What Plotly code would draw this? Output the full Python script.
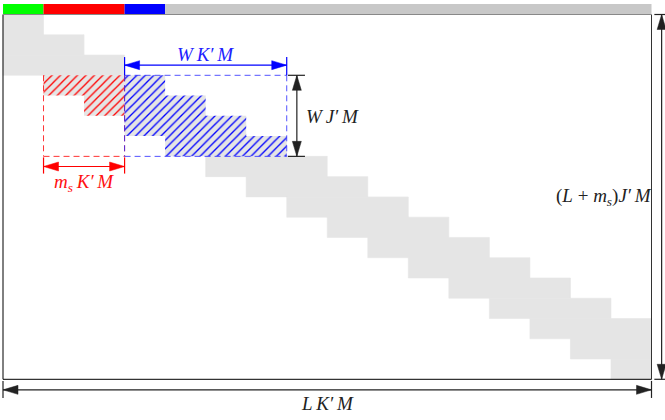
import plotly.graph_objects as go

# ---- data (in matrix block units: columns = K'M, rows = J'M) ----
N_COLS = 16          # L
N_ROWS = 18          # L + m_s
row_first = [0, 0, 0, 1, 2, 3, 4, 5, 6, 7, 8, 9, 10, 11, 12, 13, 14, 15]
row_last = [0, 1, 2, 3, 4, 5, 6, 7, 8, 9, 10, 11, 12, 13, 14, 15, 15, 15]
bar_from = [0, 1, 3, 4]
bar_to = [1, 3, 4, 16]
bar_colors = ["#00ff00", "#ff0000", "#0000ff", "#c8c8c8"]
red_block = [1, 3, 3, 7]     # c0, c1, r0, r1   (m_s x W)
blue_block = [3, 7, 3, 7]    # c0, c1, r0, r1   (W x W)
TS = "\u2009"
lbl_ws = f"<i>W{TS}K′{TS}M</i>"
lbl_ms = f"<i>m<sub>s</sub>{TS}K′{TS}M</i>"
lbl_wj = f"<i>W{TS}J′{TS}M</i>"
lbl_lj = f"(<i>L</i> + <i>m<sub>s</sub></i>)<i>J′{TS}M</i>"
lbl_lk = f"<i>L{TS}K′{TS}M</i>"

# ---- canvas geometry ----
W, H = 665, 420
X0, Y0 = 3.0, 14.5
PXC = (651.5 - X0) / N_COLS
PXR = (379.3 - Y0) / N_ROWS

fig = go.Figure()
shapes = []
FONT = "Liberation Serif"


def rect(c0, c1, r0, r1, color, layer="below"):
    shapes.append(dict(type="rect", x0=c0, x1=c1, y0=r0, y1=r1, xref="x", yref="y",
                       fillcolor=color, line=dict(width=0), layer=layer))


def line(x0, y0, x1, y1, color="black", width=1, dash="solid"):
    shapes.append(dict(type="line", x0=x0, x1=x1, y0=y0, y1=y1, xref="x", yref="y",
                       line=dict(color=color, width=width, dash=dash), layer="above"))


def in_block(c, r, b):
    return b[0] <= c < b[1] and b[2] <= r < b[3]


def kind(c, r):
    if in_block(c, r, red_block):
        return "red"
    if in_block(c, r, blue_block):
        return "blue"
    return "gray"


# runs of cells per row, grouped by kind
runs = {"gray": [], "red": [], "blue": []}
for r in range(N_ROWS):
    c = row_first[r]
    while c <= row_last[r]:
        k = kind(c, r)
        c1 = c
        while c1 + 1 <= row_last[r] and kind(c1 + 1, r) == k:
            c1 += 1
        runs[k].append((c, c1 + 1, r))
        c = c1 + 1

# gray band
gx, gy = [], []
for c0, c1, r in runs["gray"]:
    gx += [c0, c1, c1, c0, c0, None]
    gy += [r, r, r + 1, r + 1, r, None]
fig.add_trace(go.Scatter(x=gx, y=gy, mode="lines", fill="toself", fillcolor="#e5e5e5",
                         line=dict(width=0.6, color="#e5e5e5"),
                         hoverinfo="skip", showlegend=False))

# hatched cells
for name, fg in (("red", "#ff0000"), ("blue", "#0000ff")):
    xs, ys = [], []
    for c0, c1, r in runs[name]:
        xs += [c0, c1, c1, c0, c0, None]
        ys += [r, r, r + 1, r + 1, r, None]
    fig.add_trace(go.Scatter(x=xs, y=ys, mode="lines", fill="toself",
                             line=dict(width=0, color="rgba(0,0,0,0)"),
                             fillcolor="#e5e5e5",
                             fillpattern=dict(shape="/", fgcolor=fg, bgcolor="#e5e5e5",
                                              fgopacity=1, size=6, solidity=0.22),
                             hoverinfo="skip", showlegend=False))

# top bar
for a, b, col in zip(bar_from, bar_to, bar_colors):
    rect(a, b, -10.5 / PXR, 0, col, layer="above")

# frame
line(0, 0, 0, N_ROWS, "black")
line(N_COLS, 0, N_COLS, N_ROWS, "#333333")
line(0, N_ROWS, N_COLS, N_ROWS, "black")
line(0, 0, N_COLS, 0, "#888888")

# dashed boxes
DASH = "6px,4px"
rc0, rc1, rr0, rr1 = red_block
bc0, bc1, br0, br1 = blue_block
for (x0, y0, x1, y1) in [(rc0, rr0, rc0, rr1), (rc1, rr0, rc1, rr1), (rc0, rr1, rc1, rr1)]:
    line(x0, y0, x1, y1, "rgba(255,0,0,0.8)", 1, DASH)
for (x0, y0, x1, y1) in [(bc0, br0, bc1, br0), (bc1, br0, bc1, br1), (bc0, br1, bc1, br1),
                         (bc0, br0, bc0, br1)]:
    line(x0, y0, x1, y1, "rgba(40,40,255,0.8)", 1, DASH)

tri_x, tri_y = {}, {}
HL, HW = 15.0, 4.5


def head(color, xt, yt, direction):
    dx = {"l": 1, "r": -1}.get(direction, 0)
    dy = {"u": 1, "d": -1}.get(direction, 0)
    if dx:
        xs = [xt, xt + dx * HL / PXC, xt + dx * HL / PXC, xt]
        ys = [yt, yt - HW / PXR, yt + HW / PXR, yt]
    else:
        xs = [xt, xt - HW / PXC, xt + HW / PXC, xt]
        ys = [yt, yt + dy * HL / PXR, yt + dy * HL / PXR, yt]
    tri_x.setdefault(color, []).extend(xs + [None])
    tri_y.setdefault(color, []).extend(ys + [None])


def hdim(c0, c1, r, t0, t1, color):
    line(c0, r, c1, r, color, 1.2)
    line(c0, t0, c0, t1, color, 1.2)
    line(c1, t0, c1, t1, color, 1.2)
    head(color, c0, r, "l")
    head(color, c1, r, "r")


def vdim(r0, r1, c, t0, t1, color):
    line(c, r0, c, r1, color, 1.2)
    line(t0, r0, t1, r0, color, 1.2)
    line(t0, r1, t1, r1, color, 1.2)
    head(color, c, r0, "u")
    head(color, c, r1, "d")


hdim(bc0, bc1, 2.5, 2.1, br0, "#0000ff")
hdim(rc0, rc1, 7.5, rr1 + 0.05, 7.85, "#ff0000")
vdim(br0, br1, bc1 + 0.25, bc1 + 0.03, bc1 + 0.45, "#222222")
vdim(0, N_ROWS, N_COLS + 0.25, N_COLS + 0.07, N_COLS + 0.35, "#222222")
hdim(0, N_COLS, N_ROWS + 0.52, N_ROWS + 0.08, N_ROWS + 0.92, "#222222")

for col in tri_x:
    fig.add_trace(go.Scatter(x=tri_x[col], y=tri_y[col], mode="lines", fill="toself",
                             fillcolor=col, line=dict(width=0.5, color=col),
                             hoverinfo="skip", showlegend=False))

ann = [
    dict(x=(bc0 + bc1) / 2, y=1.95, text=lbl_ws, color="#2020ff", xanchor="center"),
    dict(x=(rc0 + rc1) / 2, y=8.3, text=lbl_ms, color="#ff1010", xanchor="center"),
    dict(x=bc1 + 0.42, y=(br0 + br1) / 2 + 0.05, text=lbl_wj, color="#222222", xanchor="left"),
    dict(x=N_COLS + 0.05, y=N_ROWS / 2, text=lbl_lj, color="#222222", xanchor="right"),
    dict(x=N_COLS / 2, y=N_ROWS + 1.2, text=lbl_lk, color="#222222", xanchor="center"),
]
for a in ann:
    fig.add_annotation(x=a["x"], y=a["y"], xref="x", yref="y", text=a["text"],
                       showarrow=False, xanchor=a["xanchor"], yanchor="middle",
                       font=dict(family=FONT, size=19, color=a["color"]))

fig.update_layout(
    width=W, height=H, margin=dict(l=0, r=0, t=0, b=0),
    paper_bgcolor="white", plot_bgcolor="white", shapes=shapes, showlegend=False,
    xaxis=dict(range=[-X0 / PXC, (W - X0) / PXC], visible=False, fixedrange=True),
    yaxis=dict(range=[(H - Y0) / PXR, -Y0 / PXR], visible=False, fixedrange=True),
)
fig.write_html("out.html", config={"displayModeBar": False},
               post_script="document.body.style.margin='0';document.body.style.overflow='hidden';")
